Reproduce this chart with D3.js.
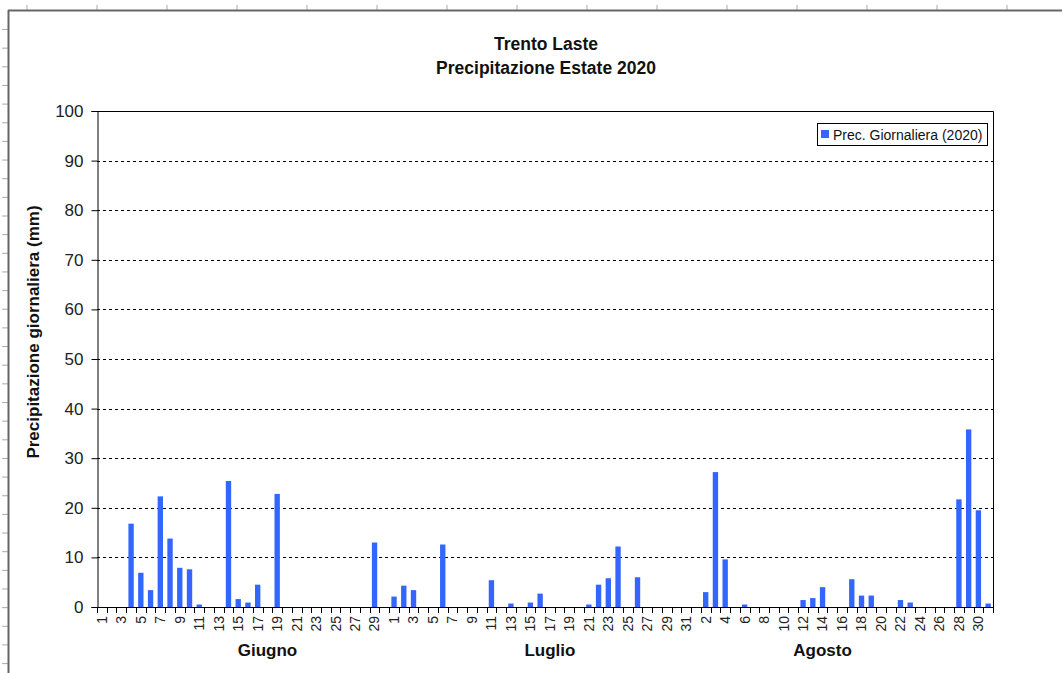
<!DOCTYPE html>
<html>
<head>
<meta charset="utf-8">
<script src="https://cdn.jsdelivr.net/npm/d3@7"></script>
<style>
  body { margin: 0; background: #fff; }
  svg { display: block; font-family: Arial, "Liberation Sans", sans-serif; }
</style>
</head>
<body>
<div id="chart"></div>
<script>
// data: daily precipitation (mm), summer 2020
let months = ["Giugno", "Luglio", "Agosto"]
let monthDays = [30, 31, 31]
let monthLabelDay = [18, 17, 14]   // day under which the month name sits
let juneRain = [0, 0, 0, 16.8, 6.9, 3.4, 22.3, 13.8, 7.9, 7.6,
                0.5, 0, 0, 25.4, 1.6, 0.9, 4.5, 0, 22.8, 0,
                0, 0, 0, 0, 0, 0, 0, 0, 13.0, 0]
let julyRain = [2.1, 4.3, 3.4, 0, 0, 12.6, 0, 0, 0, 0,
                5.4, 0, 0.7, 0, 0.9, 2.7, 0, 0, 0, 0,
                0.5, 4.5, 5.8, 12.2, 0, 6.0, 0, 0, 0, 0, 0]
let augRain  = [0, 3.0, 27.2, 9.6, 0, 0.5, 0, 0, 0, 0,
                0, 1.4, 1.8, 4.0, 0, 0, 5.6, 2.3, 2.3, 0,
                0, 1.4, 0.9, 0, 0, 0, 0, 21.7, 35.8, 19.5, 0.7]
let yTicks = [0, 10, 20, 30, 40, 50, 60, 70, 80, 90, 100]
let seriesName = "Prec. Giornaliera (2020)"
let titleLines = ["Trento Laste", "Precipitazione Estate 2020"]
let yTitle = "Precipitazione giornaliera (mm)"

let rain = [juneRain, julyRain, augRain]
let days = []
rain.forEach((arr, m) => arr.forEach((v, i) => days.push({month: m, day: i + 1, value: v})))

const W = 1062, H = 673
const plot = {left: 97, right: 993, top: 111, bottom: 607}
const blue = "#3366ff"

let svg = d3.select("#chart").append("svg").attr("width", W).attr("height", H)

// sheet frame with ruler ticks
let frame = svg.append("g")
frame.selectAll(".rt").data(d3.range(27, W, 70)).enter().append("line")
    .attr("x1", d => d).attr("x2", d => d).attr("y1", 5).attr("y2", 10)
    .attr("stroke", "#aaa")
frame.selectAll(".lt").data(d3.range(29.5, H, 18.65)).enter().append("line")
    .attr("x1", 2).attr("x2", 8).attr("y1", d => d).attr("y2", d => d)
    .attr("stroke", "#aaa")
frame.append("line").attr("x1", 8).attr("x2", W).attr("y1", 10.5).attr("y2", 10.5)
    .attr("stroke", "#666").attr("stroke-width", 2)
frame.append("line").attr("x1", 8.5).attr("x2", 8.5).attr("y1", 10).attr("y2", H)
    .attr("stroke", "#666").attr("stroke-width", 2)

// scales
let x = d3.scaleBand().domain(d3.range(days.length)).range([plot.left, plot.right])
    .paddingInner(0.45).paddingOuter(0.225)
let y = d3.scaleLinear().domain([0, 100]).range([plot.bottom, plot.top])

// grid
svg.selectAll(".grid").data(yTicks.filter(t => t > 0 && t < 100)).enter().append("line")
    .attr("x1", plot.left).attr("x2", plot.right)
    .attr("y1", d => Math.round(y(d)) + 0.5).attr("y2", d => Math.round(y(d)) + 0.5)
    .attr("stroke", "#000").attr("stroke-dasharray", "3,3")

// bars
svg.selectAll(".bar").data(days).enter().append("rect")
    .attr("x", (d, i) => x(i)).attr("width", x.bandwidth())
    .attr("y", d => y(d.value)).attr("height", d => y(0) - y(d.value))
    .attr("fill", blue)

// plot border (top & right)
svg.append("path")
    .attr("d", `M${plot.left},${plot.top + 0.5}H${plot.right + 0.5}V${plot.bottom}`)
    .attr("fill", "none").attr("stroke", "#000")

// y axis
let yAxis = svg.append("g").attr("transform", `translate(${plot.left + 0.5},0)`)
    .call(d3.axisLeft(y).tickValues(yTicks).tickSize(6).tickPadding(8))
yAxis.select(".domain").attr("stroke", "#000")
yAxis.selectAll("text").attr("font-size", 17).attr("fill", "#222")
    .style("font-family", "Arial, 'Liberation Sans', sans-serif")

// x axis: ticks at day boundaries
let step = x.step()
let xAxis = svg.append("g")
xAxis.append("line").attr("x1", plot.left).attr("x2", plot.right + 0.5)
    .attr("y1", plot.bottom + 0.5).attr("y2", plot.bottom + 0.5).attr("stroke", "#000")
xAxis.selectAll(".xt").data(d3.range(days.length + 1)).enter().append("line")
    .attr("x1", i => Math.round(plot.left + i * step) + 0.5).attr("x2", i => Math.round(plot.left + i * step) + 0.5)
    .attr("y1", plot.bottom).attr("y2", plot.bottom + 6).attr("stroke", "#000")
xAxis.selectAll(".xl").data(days.filter((d, i) => i % 2 === 0)).enter().append("text")
    .attr("transform", d => {
        let i = days.indexOf(d)
        return `translate(${x(i) + x.bandwidth() / 2},${plot.bottom + 9}) rotate(-90)`
    })
    .attr("text-anchor", "end").attr("dy", "0.35em")
    .attr("font-size", 14).attr("fill", "#222")
    .text(d => d.day)

// month labels
let offset = 0
months.forEach((m, k) => {
    let i = offset + monthLabelDay[k] - 1
    svg.append("text").attr("x", x(i) + x.bandwidth() / 2).attr("y", 656)
        .attr("text-anchor", "middle").attr("font-size", 17).attr("font-weight", "bold")
        .attr("fill", "#111").text(m)
    offset += monthDays[k]
})

// titles
titleLines.forEach((t, k) => {
    svg.append("text").attr("x", 546).attr("y", 50 + k * 24)
        .attr("text-anchor", "middle").attr("font-size", 17.5).attr("font-weight", "bold")
        .attr("fill", "#111").text(t)
})
svg.append("text").attr("transform", `translate(39,${(plot.top + plot.bottom) / 2 - 27}) rotate(-90)`)
    .attr("text-anchor", "middle").attr("font-size", 17).attr("font-weight", "bold")
    .attr("fill", "#111").text(yTitle)

// legend
let lg = svg.append("g").attr("transform", "translate(817,123)")
lg.append("rect").attr("x", 0.5).attr("y", 0.5).attr("width", 170).attr("height", 22)
    .attr("fill", "#fff").attr("stroke", "#000")
lg.append("rect").attr("x", 4).attr("y", 7).attr("width", 8).attr("height", 8).attr("fill", blue)
lg.append("text").attr("x", 16).attr("y", 16.5).attr("font-size", 14).attr("fill", "#111").text(seriesName)
</script>
</body>
</html>
